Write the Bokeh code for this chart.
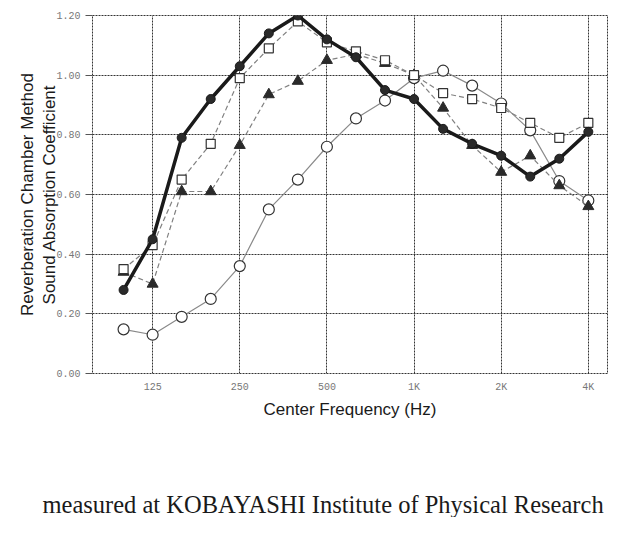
from bokeh.plotting import figure
from bokeh.layouts import column
from bokeh.models import Range1d, FixedTicker, Title
from bokeh.embed import file_html
from bokeh.resources import INLINE

# 1/3-octave band centre frequencies
bands = ["100", "125", "160", "200", "250", "315", "400", "500", "630", "800",
         "1K", "1.25K", "1.6K", "2K", "2.5K", "3.15K", "4K"]
tick_labels = ["125", "250", "500", "1K", "2K", "4K"]

# series (sound absorption coefficients)
thick_filled = [0.28, 0.45, 0.79, 0.92, 1.03, 1.14, 1.20, 1.12, 1.06, 0.95,
                0.92, 0.82, 0.77, 0.73, 0.66, 0.72, 0.81]
open_squares = [0.35, 0.43, 0.65, 0.77, 0.99, 1.09, 1.18, 1.11, 1.08, 1.05,
                1.00, 0.94, 0.92, 0.89, 0.84, 0.79, 0.84]
filled_triangles = [0.34, 0.30, 0.61, 0.61, 0.765, 0.935, 0.98, 1.05, 1.07, 1.04,
                    1.00, 0.89, 0.765, 0.675, 0.73, 0.63, 0.56]
open_circles = [0.148, 0.13, 0.19, 0.25, 0.36, 0.55, 0.65, 0.76, 0.855, 0.915,
                0.99, 1.015, 0.965, 0.905, 0.815, 0.645, 0.58]

y_ticks = [0.0, 0.2, 0.4, 0.6, 0.8, 1.0, 1.2]
caption_text = "measured at KOBAYASHI Institute of Physical Research"

xs = list(range(len(bands)))
tick_pos = [bands.index(t) for t in tick_labels]

p = figure(width=611, height=460, output_backend="svg", toolbar_location=None,
           x_range=Range1d(-1.07, 16.66), y_range=Range1d(0, 1.2),
           min_border_left=92, min_border_right=4, min_border_top=15,
           min_border_bottom=87)
p.background_fill_color = "white"
p.border_fill_color = "white"
p.outline_line_color = "#333333"
p.outline_line_dash = "2 1"
p.outline_line_width = 1

p.xaxis.ticker = FixedTicker(ticks=tick_pos)
p.xaxis.major_label_overrides = {i: t for i, t in zip(tick_pos, tick_labels)}
p.yaxis.ticker = FixedTicker(ticks=y_ticks)
p.yaxis.major_label_overrides = {v: f"{v:.2f}" for v in y_ticks}

for ax in (p.xaxis[0], p.yaxis[0]):
    ax.axis_line_color = None
    ax.minor_tick_line_color = None
    ax.major_label_text_font = "Liberation Mono"
    ax.major_label_text_font_size = "10px"
    ax.major_label_text_color = "#777777"
    ax.axis_label_text_font = "Liberation Sans"
    ax.axis_label_text_font_size = "17px"
    ax.axis_label_text_font_style = "normal"
    ax.axis_label_text_color = "#1a1a1a"

p.xaxis.major_tick_line_color = None
p.xaxis.major_tick_out = 0
p.xaxis.major_tick_in = 0
p.xaxis.major_label_standoff = 8
p.xaxis.axis_label = "Center Frequency (Hz)"
p.xaxis.axis_label_standoff = 4

p.yaxis.major_tick_line_color = "#555555"
p.yaxis.major_tick_out = 7
p.yaxis.major_tick_in = 0
p.yaxis.major_label_standoff = 5
p.yaxis.axis_label = "Reverberation Chamber Method\nSound Absorption Coefficient"
p.yaxis.axis_label_standoff = -6

for g in (p.xgrid[0], p.ygrid[0]):
    g.grid_line_color = "#333333"
    g.grid_line_dash = "2 1"
    g.grid_line_width = 1

# open circles, thin solid grey line
p.line(xs, open_circles, line_color="#8a8a8a", line_width=1.2)
p.scatter(xs, open_circles, marker="circle", size=11, fill_color="white",
          line_color="#333333", line_width=1.2)

# filled triangles, dashed
p.line(xs, filled_triangles, line_color="#808080", line_width=1.2, line_dash="5 3")
p.scatter(xs, filled_triangles, marker="triangle", size=11, fill_color="#2a2a2a",
          line_color="#2a2a2a")

# open squares, dashed
p.line(xs, open_squares, line_color="#808080", line_width=1.2, line_dash="5 3")
p.scatter(xs, open_squares, marker="square", size=9, fill_color="white",
          line_color="#333333", line_width=1.2)

# thick black line with filled circles
p.line(xs, thick_filled, line_color="#1a1a1a", line_width=3.5)
p.scatter(xs, thick_filled, marker="circle", size=9, fill_color="#2a2a2a",
          line_color="#1a1a1a")

# caption strip below the chart
cap = figure(width=611, height=57, output_backend="svg", toolbar_location=None,
             x_axis_type=None, y_axis_type=None,
             x_range=Range1d(0, 1), y_range=Range1d(0, 1), min_border=0)
cap.outline_line_color = None
cap.grid.visible = False
cap.background_fill_color = "white"
cap.border_fill_color = "white"
cap.add_layout(Title(text=caption_text, text_font="Liberation Serif",
                     text_font_size="24.5px", text_font_style="normal",
                     text_color="#1a1a1a", align="left", offset=-50,
                     vertical_align="bottom", standoff=0), "below")

open("out.html", "w").write(file_html(column(p, cap, spacing=0), INLINE))
